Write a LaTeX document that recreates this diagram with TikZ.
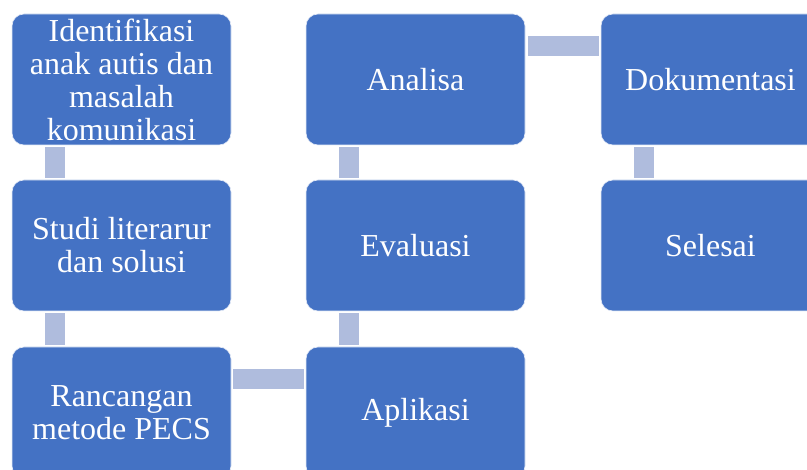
\documentclass[tikz,border=0pt]{standalone}
\usepackage{fontspec}
\setmainfont{Liberation Serif}
\definecolor{boxblue}{HTML}{4472C4}
\definecolor{connblue}{HTML}{AFBCDD}
\begin{document}
\begin{tikzpicture}[x=1pt,y=-1pt,
  stepbox/.style={rectangle, rounded corners=12pt, fill=boxblue, draw=white!85!boxblue, line width=0.6pt,
    minimum width=219pt, minimum height=131pt, inner sep=0pt, align=center, text=white,
    font=\fontsize{32}{33}\selectfont},
  conn/.style={fill=connblue}]
\useasboundingbox (0,0) rectangle (807,470);
\clip (0,0) rectangle (807,470);
\node[stepbox] (id) at (121.5,79.5) {Identifikasi\\anak autis dan\\masalah\\komunikasi};
\node[stepbox] (st) at (121.5,245.5) {Studi literarur\\dan solusi};
\node[stepbox] (ra) at (121.5,412.5) {Rancangan\\metode PECS};
\node[stepbox] (ap) at (415.5,412.5) {Aplikasi};
\node[stepbox] (ev) at (415.5,245.5) {Evaluasi};
\node[stepbox] (an) at (415.5,79.5) {Analisa};
\node[stepbox] (do) at (710.5,79.5) {Dokumentasi};
\node[stepbox] (se) at (710.5,245.5) {Selesai};
% vertical connectors
\fill[conn] ([xshift=33pt,yshift=-2pt]id.south west) rectangle ([xshift=53pt,yshift=2pt]st.north west);
\fill[conn] ([xshift=33pt,yshift=-2pt]st.south west) rectangle ([xshift=53pt,yshift=2pt]ra.north west);
\fill[conn] ([xshift=33pt,yshift=-2pt]ev.south west) rectangle ([xshift=53pt,yshift=2pt]ap.north west);
\fill[conn] ([xshift=33pt,yshift=-2pt]an.south west) rectangle ([xshift=53pt,yshift=2pt]ev.north west);
\fill[conn] ([xshift=33pt,yshift=-2pt]do.south west) rectangle ([xshift=53pt,yshift=2pt]se.north west);
% horizontal connectors
\fill[conn] ([xshift=2pt,yshift=-22pt]ra.north east) rectangle ([xshift=-2pt,yshift=-42pt]ap.north west);
\fill[conn] ([xshift=3pt,yshift=-22pt]an.north east) rectangle ([xshift=-2pt,yshift=-42pt]do.north west);
\end{tikzpicture}
\end{document}
